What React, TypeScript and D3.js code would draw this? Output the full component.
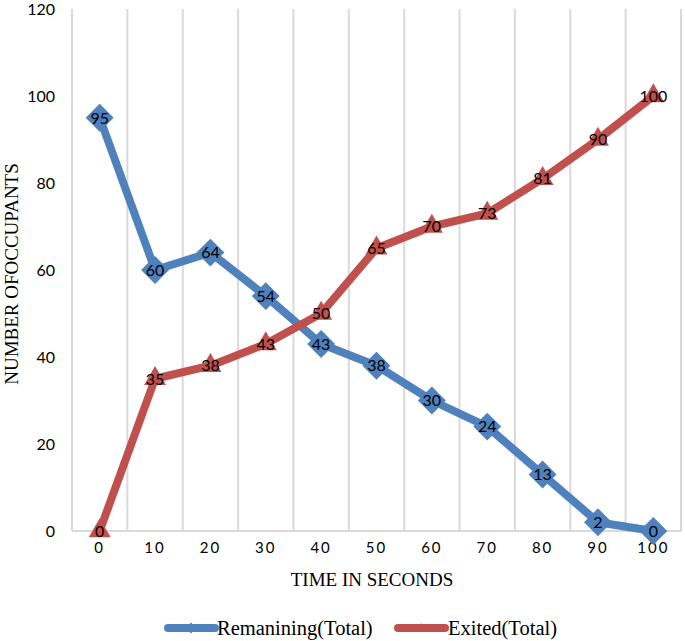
import React from 'react';
import * as d3 from 'd3';

// time categories (seconds)
const times = ['0', '10', '20', '30', '40', '50', '60', '70', '80', '90', '100'];
const remaining = [95, 60, 64, 54, 43, 38, 30, 24, 13, 2, 0];
const exited = [0, 35, 38, 43, 50, 65, 70, 73, 81, 90, 100];
const yTicks = [0, 20, 40, 60, 80, 100, 120];

const W = 685;
const H = 641;
const margin = { top: 9, right: 4, bottom: 110, left: 72 };

const BLUE = '#4F81BD';
const RED = '#C0504D';
const GRID = '#D9D9D9';
const labelFont = 'Lato, "Open Sans", sans-serif';
const serif = '"Liberation Serif", "Times New Roman", serif';

// square turned 45deg gives the wide excel-style diamond
const diamond = d3.symbol().type(d3.symbolSquare).size(390)();
const triangle = d3.symbol().type(d3.symbolTriangle).size(210)();

const App = () => {
  const x = d3.scaleBand<string>()
    .domain(times)
    .range([margin.left, W - margin.right])
    .padding(0);
  const y = d3.scaleLinear()
    .domain([0, 120])
    .range([H - margin.bottom, margin.top]);

  const cx = (t: string) => (x(t) as number) + x.bandwidth() / 2;

  const line = d3.line<number>()
    .x((_, i) => cx(times[i]))
    .y(d => y(d));

  const series = [
    { name: 'Remanining(Total)', data: remaining, color: BLUE, marker: diamond, rot: 45, lx: 168, tx: 217 },
    { name: 'Exited(Total)', data: exited, color: RED, marker: triangle, rot: 0, lx: 398, tx: 448 },
  ];

  const bottom = y(0);

  return (
    <svg width={W} height={H} style={{ position: 'absolute', left: 0, top: 0, background: '#fff' }}>
      {/* vertical gridlines at category edges */}
      {times.map(t => (
        <line key={'g' + t} x1={x(t)} x2={x(t)} y1={margin.top} y2={bottom} stroke={GRID} strokeWidth={2} />
      ))}
      <line x1={W - margin.right} x2={W - margin.right} y1={margin.top} y2={bottom} stroke={GRID} strokeWidth={2} />
      <line x1={margin.left} x2={W - margin.right} y1={bottom} y2={bottom} stroke={GRID} strokeWidth={2} />

      {/* y tick labels */}
      {yTicks.map(v => (
        <text key={'y' + v} x={55} y={y(v)} dy="0.35em" textAnchor="end" fontFamily={labelFont} fontSize={16} fill="#000">
          {v}
        </text>
      ))}
      {/* x tick labels */}
      {times.map(t => (
        <text key={'x' + t} x={cx(t)} y={bottom + 22} textAnchor="middle" fontFamily={labelFont} fontSize={15} letterSpacing={2} fill="#000">
          {t}
        </text>
      ))}

      {/* axis titles */}
      <text x={372} y={586} textAnchor="middle" fontFamily={serif} fontSize={19} fill="#000">TIME IN SECONDS</text>
      <text transform={`translate(18,${(margin.top + bottom) / 2 + 4}) rotate(-90)`} textAnchor="middle" fontFamily={serif} fontSize={19} fill="#000">
        NUMBER OFOCCUPANTS
      </text>

      {/* series lines and markers */}
      {series.map(s => (
        <g key={s.name}>
          <path d={line(s.data) || ''} fill="none" stroke={s.color} strokeWidth={8} strokeLinejoin="round" />
          {s.data.map((v, i) => (
            <path key={i} d={s.marker || ''} transform={`translate(${cx(times[i])},${y(v)}) rotate(${s.rot})`} fill={s.color} />
          ))}
        </g>
      ))}

      {/* data labels */}
      {series.map(s => s.data.map((v, i) => (
        <text key={s.name + 'l' + i} x={cx(times[i])} y={y(v)} dy="0.36em" textAnchor="middle" fontFamily={labelFont} fontSize={16} fill="#000">
          {v}
        </text>
      )))}

      {/* legend */}
      {series.map(s => (
        <g key={'lg' + s.name}>
          <line x1={s.lx} x2={s.lx + 47} y1={628} y2={628} stroke={s.color} strokeWidth={8} strokeLinecap="round" />
          <path d={s.marker || ''} transform={`translate(${s.lx + 23},628) rotate(${s.rot}) scale(0.4)`} fill={s.color} />
          <text x={s.tx} y={628} dy="0.35em" fontFamily={serif} fontSize={20.5} fill="#000">{s.name}</text>
        </g>
      ))}
    </svg>
  );
};

export default App;
